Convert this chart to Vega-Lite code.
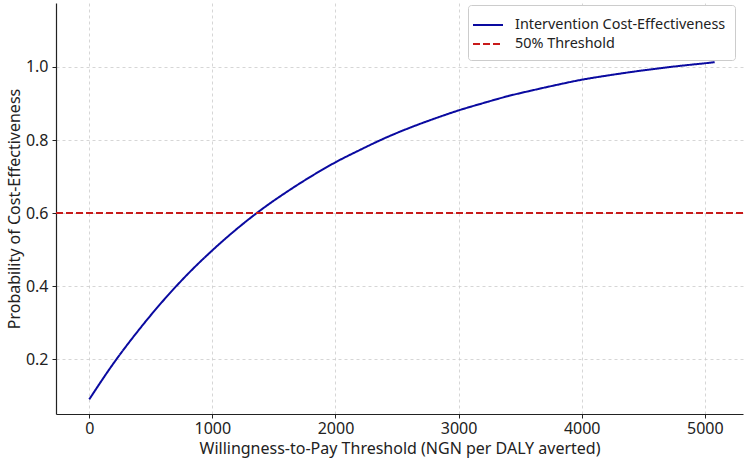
{
  "$schema": "https://vega.github.io/schema/vega-lite/v6.json",
  "width": 687,
  "height": 411,
  "autosize": {"type": "none"},
  "padding": {"left": 56, "top": 3, "right": 7, "bottom": 47},
  "background": "white",
  "config": {
    "font": "Noto Sans",
    "view": {"stroke": null},
    "axis": {
      "domainColor": "#222",
      "domainWidth": 1.2,
      "tickColor": "#222",
      "tickSize": 4,
      "labelFont": "Noto Sans",
      "labelFontSize": 16,
      "labelColor": "#222",
      "titleFont": "Noto Sans",
      "titleFontSize": 16,
      "titleFontWeight": "normal",
      "titleColor": "#222",
      "grid": true,
      "gridColor": "#cccccc",
      "gridDash": [3, 3],
      "gridWidth": 0.8
    }
  },
  "layer": [
    {
      "data": {
        "values": [
          {"wtp": 0, "prob": 0.090, "series": "Intervention Cost-Effectiveness"},
          {"wtp": 200, "prob": 0.190, "series": "Intervention Cost-Effectiveness"},
          {"wtp": 400, "prob": 0.279, "series": "Intervention Cost-Effectiveness"},
          {"wtp": 600, "prob": 0.360, "series": "Intervention Cost-Effectiveness"},
          {"wtp": 800, "prob": 0.433, "series": "Intervention Cost-Effectiveness"},
          {"wtp": 1000, "prob": 0.498, "series": "Intervention Cost-Effectiveness"},
          {"wtp": 1200, "prob": 0.557, "series": "Intervention Cost-Effectiveness"},
          {"wtp": 1400, "prob": 0.610, "series": "Intervention Cost-Effectiveness"},
          {"wtp": 1600, "prob": 0.657, "series": "Intervention Cost-Effectiveness"},
          {"wtp": 1800, "prob": 0.700, "series": "Intervention Cost-Effectiveness"},
          {"wtp": 2000, "prob": 0.739, "series": "Intervention Cost-Effectiveness"},
          {"wtp": 2200, "prob": 0.773, "series": "Intervention Cost-Effectiveness"},
          {"wtp": 2400, "prob": 0.805, "series": "Intervention Cost-Effectiveness"},
          {"wtp": 2600, "prob": 0.833, "series": "Intervention Cost-Effectiveness"},
          {"wtp": 2800, "prob": 0.858, "series": "Intervention Cost-Effectiveness"},
          {"wtp": 3000, "prob": 0.881, "series": "Intervention Cost-Effectiveness"},
          {"wtp": 3200, "prob": 0.901, "series": "Intervention Cost-Effectiveness"},
          {"wtp": 3400, "prob": 0.920, "series": "Intervention Cost-Effectiveness"},
          {"wtp": 3600, "prob": 0.936, "series": "Intervention Cost-Effectiveness"},
          {"wtp": 3800, "prob": 0.951, "series": "Intervention Cost-Effectiveness"},
          {"wtp": 4000, "prob": 0.965, "series": "Intervention Cost-Effectiveness"},
          {"wtp": 4200, "prob": 0.976, "series": "Intervention Cost-Effectiveness"},
          {"wtp": 4400, "prob": 0.986, "series": "Intervention Cost-Effectiveness"},
          {"wtp": 4600, "prob": 0.995, "series": "Intervention Cost-Effectiveness"},
          {"wtp": 4800, "prob": 1.003, "series": "Intervention Cost-Effectiveness"},
          {"wtp": 5000, "prob": 1.010, "series": "Intervention Cost-Effectiveness"},
          {"wtp": 5080, "prob": 1.013, "series": "Intervention Cost-Effectiveness"}
        ]
      },
      "mark": {"type": "line", "strokeWidth": 2, "interpolate": "monotone", "clip": true},
      "encoding": {
        "x": {
          "field": "wtp",
          "type": "quantitative",
          "scale": {"domain": [-270, 5310], "nice": false, "zero": false},
          "axis": {
            "values": [0, 1000, 2000, 3000, 4000, 5000],
            "format": "d",
            "title": "Willingness-to-Pay Threshold (NGN per DALY averted)",
            "labelPadding": 2,
            "titlePadding": 4
          }
        },
        "y": {
          "field": "prob",
          "type": "quantitative",
          "scale": {"domain": [0.05, 1.175], "nice": false, "zero": false},
          "axis": {
            "values": [0.2, 0.4, 0.6, 0.8, 1.0],
            "format": ".1f",
            "title": "Probability of Cost-Effectiveness",
            "labelPadding": 4,
            "titlePadding": 3
          }
        },
        "color": {
          "field": "series",
          "type": "nominal",
          "scale": {
            "domain": ["Intervention Cost-Effectiveness", "50% Threshold"],
            "range": ["#0a0aa0", "#c81a1a"]
          },
          "legend": {
            "title": null,
            "orient": "none",
            "legendX": 412,
            "legendY": 2,
            "symbolType": "M-1.5,0L1.5,0",
            "symbolSize": 400,
            "symbolStrokeWidth": 2,
            "labelFont": "Noto Sans",
            "labelFontSize": 14.4,
            "labelLimit": 400,
            "labelColor": "#222",
            "labelOffset": 16,
            "rowPadding": 1,
            "padding": 9,
            "fillColor": "white",
            "strokeColor": "#cccccc",
            "cornerRadius": 3
          }
        },
        "strokeDash": {
          "field": "series",
          "type": "nominal",
          "scale": {
            "domain": ["Intervention Cost-Effectiveness", "50% Threshold"],
            "range": [[1, 0], [7, 3]]
          },
          "legend": null
        }
      }
    },
    {
      "data": {"values": [{"prob": 0.6, "series": "50% Threshold"}]},
      "mark": {"type": "rule", "strokeWidth": 2},
      "encoding": {
        "y": {"field": "prob", "type": "quantitative"},
        "color": {"field": "series", "type": "nominal"},
        "strokeDash": {"field": "series", "type": "nominal"}
      }
    }
  ]
}
